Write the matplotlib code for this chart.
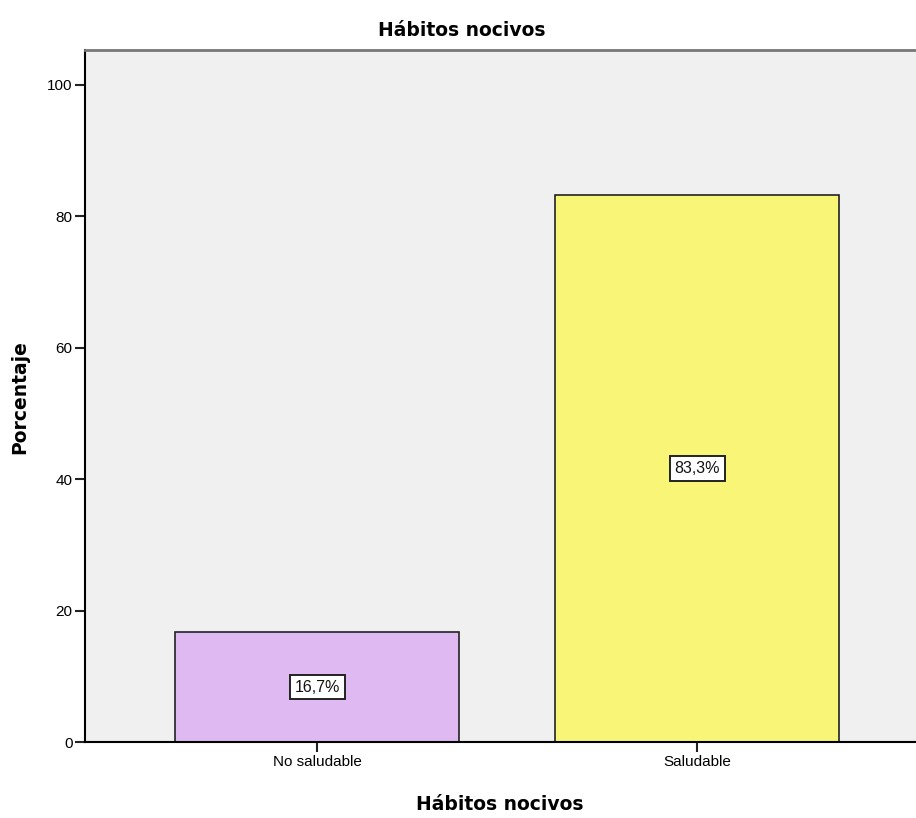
import matplotlib.pyplot as plt

# Data
categories = ["No saludable", "Saludable"]
percentages = [16.7, 83.3]
bar_labels = ["16,7%", "83,3%"]
bar_colors = ["#DFB9F2", "#F9F576"]
y_ticks = [0, 20, 40, 60, 80, 100]

fig = plt.figure(figsize=(9.16, 8.18), dpi=100)
ax = fig.add_axes([85 / 916, 76 / 818, 831 / 916, 692 / 818])
ax.set_facecolor("#F0F0F0")

x = list(range(len(categories)))
ax.bar(x, percentages, width=0.747, color=bar_colors, edgecolor="#222222", linewidth=1.2, zorder=2)

for xi, val, lab in zip(x, percentages, bar_labels):
    ax.text(xi, val / 2, lab, ha="center", va="center", fontsize=11.5,
            family="Liberation Sans", color="#111111",
            bbox=dict(boxstyle="square,pad=0.3", fc="white", ec="#222222", lw=1.4), zorder=3)

ax.set_xlim(-0.611, 1.576)
ax.set_ylim(0, 105.3)
ax.set_xticks(x)
ax.set_xticklabels(categories, family="Liberation Sans", fontsize=11)
ax.set_yticks(y_ticks)
ax.set_yticklabels([str(t) for t in y_ticks], family="Liberation Sans", fontsize=11)
ax.tick_params(axis="both", direction="out", length=7, width=1.5, color="#222222", pad=2)

ax.spines["right"].set_visible(False)
ax.spines["top"].set_color("#777777")
ax.spines["top"].set_linewidth(2)
ax.spines["left"].set_linewidth(1.5)
ax.spines["bottom"].set_linewidth(1.5)

fig.text(462 / 916, 1 - 30 / 818, "Hábitos nocivos", ha="center", va="center",
         fontsize=13.5, fontweight="bold", family="DejaVu Sans")
fig.text(500 / 916, 1 - 805 / 818, "Hábitos nocivos", ha="center", va="center",
         fontsize=13.5, fontweight="bold", family="DejaVu Sans")
fig.text(20 / 916, 1 - 397 / 818, "Porcentaje", ha="center", va="center", rotation=90,
         fontsize=13.5, fontweight="bold", family="DejaVu Sans")

fig.savefig("out.png", dpi=100)
